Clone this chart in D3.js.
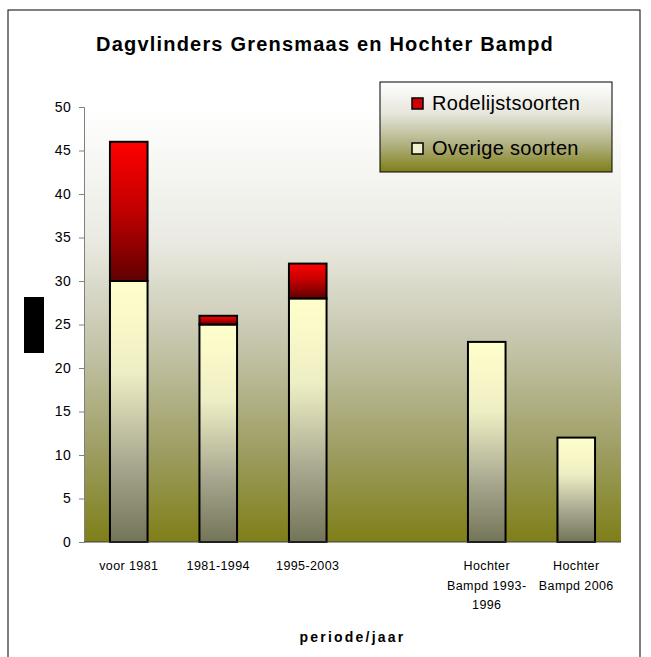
<!DOCTYPE html>
<html><head><meta charset="utf-8">
<script src="https://cdn.jsdelivr.net/npm/d3@7/dist/d3.min.js"></script>
<style>body{margin:0;background:#fff;} svg{display:block;font-family:"Liberation Sans",Arial,sans-serif;}</style>
</head><body>
<script>
const categories = ["voor 1981", "1981-1994", "1995-2003", "", "Hochter Bampd 1993-1996", "Hochter Bampd 2006"];
const labelLines = [["voor 1981"], ["1981-1994"], ["1995-2003"], [], ["Hochter", "Bampd 1993-", "1996"], ["Hochter", "Bampd 2006"]];
const overige = [30, 25, 28, 0, 23, 12];
const rodelijst = [16, 1, 4, 0, 0, 0];
const seriesNames = ["Rodelijstsoorten", "Overige soorten"];
const yTicks = [0, 5, 10, 15, 20, 25, 30, 35, 40, 45, 50];

const W = 651, H = 657;
const svg = d3.select("body").append("svg").attr("width", W).attr("height", H);
const defs = svg.append("defs");
function grad(id, stops) {
  const g = defs.append("linearGradient").attr("id", id).attr("x1", 0).attr("y1", 0).attr("x2", 0).attr("y2", 1);
  stops.forEach(s => g.append("stop").attr("offset", s[0]).attr("stop-color", s[1]));
}
grad("bg", [[0, "#ffffff"], [0.3, "#ebebe4"], [0.55, "#c4c4aa"], [0.8, "#9c9c60"], [1, "#7f7f18"]]);
grad("leg", [[0, "#ffffff"], [0.35, "#e6e6dc"], [0.7, "#b0b080"], [1, "#7f7f18"]]);
grad("yel", [[0, "#ffffcc"], [0.35, "#eeeec4"], [0.7, "#a8a890"], [1, "#747458"]]);
grad("red", [[0, "#ff0000"], [0.5, "#c00000"], [1, "#600000"]]);

// frame
svg.append("rect").attr("x", 8).attr("y", 10).attr("width", 632).attr("height", 660)
  .attr("fill", "#fff").attr("stroke", "#000").attr("stroke-width", 1);

const m = {l: 84, r: 621, t: 107, b: 542};
const x = d3.scaleBand().domain(categories).range([m.l, m.r]).paddingInner(0.58).paddingOuter(0.29);
const y = d3.scaleLinear().domain([0, 50]).range([m.b, m.t]);

svg.append("rect").attr("x", m.l).attr("y", m.t).attr("width", m.r - m.l).attr("height", m.b - m.t).attr("fill", "url(#bg)");

// title
svg.append("text").attr("x", 325).attr("y", 51).attr("text-anchor", "middle")
  .attr("font-size", 20).attr("font-weight", "bold").attr("letter-spacing", 1.2)
  .text("Dagvlinders Grensmaas en Hochter Bampd");

// y axis
const yAxis = svg.append("g").attr("transform", `translate(${m.l},0)`)
  .call(d3.axisLeft(y).tickValues(yTicks).tickSize(5).tickPadding(8));
yAxis.select(".domain").attr("stroke", "#808080");
yAxis.selectAll(".tick line").attr("stroke", "#808080");
yAxis.selectAll("text").attr("font-size", 14).attr("letter-spacing", 0.3).attr("fill", "#000")
  .attr("font-family", "Liberation Sans, Arial, sans-serif");

// bars
const bw = x.bandwidth();
const gBars = svg.append("g");
categories.forEach((c, i) => {
  if (overige[i] > 0) {
    gBars.append("rect").attr("x", x(c)).attr("y", y(overige[i])).attr("width", bw)
      .attr("height", y(0) - y(overige[i])).attr("fill", "url(#yel)").attr("stroke", "#000").attr("stroke-width", 2);
  }
  if (rodelijst[i] > 0) {
    gBars.append("rect").attr("x", x(c)).attr("y", y(overige[i] + rodelijst[i])).attr("width", bw)
      .attr("height", y(overige[i]) - y(overige[i] + rodelijst[i])).attr("fill", "url(#red)").attr("stroke", "#000").attr("stroke-width", 2);
  }
});

// x axis line
svg.append("line").attr("x1", m.l).attr("x2", m.r).attr("y1", m.b).attr("y2", m.b).attr("stroke", "#404040").attr("stroke-width", 1);

// x labels
categories.forEach((c, i) => {
  const t = svg.append("text").attr("x", x(c) + bw / 2).attr("y", 570).attr("text-anchor", "middle")
    .attr("font-size", 12.5).attr("letter-spacing", 0.4);
  labelLines[i].forEach((ln, j) => t.append("tspan").attr("x", x(c) + bw / 2).attr("dy", j === 0 ? 0 : 19.5).text(ln));
});

// x axis title
svg.append("text").attr("x", (m.l + m.r) / 2).attr("y", 642).attr("text-anchor", "middle")
  .attr("font-size", 14).attr("font-weight", "bold").attr("letter-spacing", 2.2).text("periode/jaar");

// y-axis title placeholder block
svg.append("rect").attr("x", 24).attr("y", 297).attr("width", 20).attr("height", 56).attr("fill", "#000");

// legend
const lg = svg.append("g");
lg.append("rect").attr("x", 380).attr("y", 82).attr("width", 232).attr("height", 90)
  .attr("fill", "url(#leg)").attr("stroke", "#000").attr("stroke-width", 1);
seriesNames.forEach((s, i) => {
  const cy = 103 + i * 45;
  lg.append("rect").attr("x", 412).attr("y", cy - 5).attr("width", 11).attr("height", 11)
    .attr("fill", i === 0 ? "#d00000" : "#f0f0d0").attr("stroke", "#000").attr("stroke-width", 1.5);
  lg.append("text").attr("x", 432).attr("y", cy + 7).attr("font-size", 20).attr("letter-spacing", 0.3).text(s);
});
</script>
</body></html>
